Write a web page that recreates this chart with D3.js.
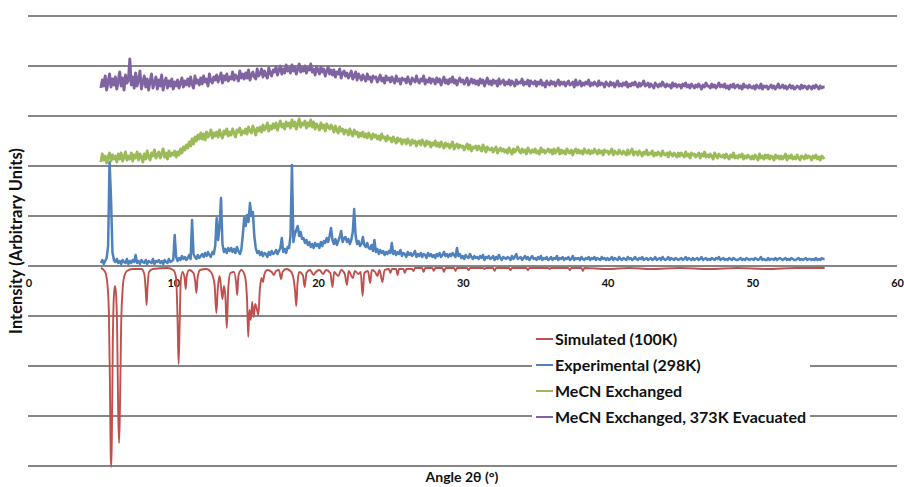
<!DOCTYPE html>
<html>
<head>
<meta charset="utf-8">
<script src="https://cdnjs.cloudflare.com/ajax/libs/d3/7.8.5/d3.min.js"></script>
<style>
  body { margin: 0; background: #fff; }
  text { font-family: Lato, "Open Sans", sans-serif; font-weight: bold; fill: #111; }
</style>
</head>
<body>
<script>
// PXRD patterns, stacked with offsets (arbitrary units)
// measured patterns are sampled every 0.1 deg from 5 to 55 deg 2theta

var seriesNames = ["Simulated (100K)", "Experimental (298K)", "MeCN Exchanged", "MeCN Exchanged, 373K Evacuated"];
var seriesColors = ["#c0504d", "#4f81bd", "#9bbb59", "#8064a2"];
var seriesWidths = [1.9, 2.5, 2.9, 2.9];
var xTicks = [0, 10, 20, 30, 40, 50, 60];

// simulated pattern, drawn inverted below zero
var simAngles = [5.0,5.2,5.35,5.45,5.55,5.62,5.68,5.72,5.76,5.82,5.9,5.97,6.05,6.13,6.2,6.26,6.32,6.4,6.5,6.62,6.8,7.2,7.8,8.0,8.1,8.16,8.22,8.32,8.6,9.6,
  10.0,10.2,10.3,10.37,10.44,10.52,10.65,10.8,10.86,10.93,11.1,11.4,11.52,11.6,11.68,11.85,12.3,12.6,12.85,12.98,13.08,13.2,13.32,13.4,13.5,13.6,13.7,13.8,13.95,
  14.2,14.35,14.42,14.5,14.7,14.95,15.1,15.18,15.26,15.36,15.45,15.56,15.66,15.76,15.88,15.98,16.1,16.2,16.3,16.5,16.8,16.95,17.1,17.3,17.45,17.55,17.8,
  18.1,18.3,18.42,18.5,18.58,18.7,18.95,19.08,19.2,19.45,19.7,19.85,20.1,20.35,20.55,20.85,21.0,21.12,21.4,21.6,21.85,22.0,22.12,22.4,22.55,22.8,22.95,
  23.08,23.2,23.45,23.6,23.72,23.95,24.1,24.25,24.45,24.6,
  24.9,25.0,25.1,25.4,25.5,25.6,25.9,26.0,26.1,26.5,26.6,26.7,27.2,27.3,27.4,27.9,28.0,28.1,28.6,28.7,28.8,29.4,29.5,29.6,30.3,30.4,30.5,
  31.4,31.5,31.6,32.1,32.2,32.3,33.2,33.3,33.4,34.4,34.5,34.6,35.9,36.0,36.1,37.3,37.4,37.5,38.2,38.3,38.4,
  40.0,41.5,43.0,45.0,47.0,49.0,51.0,53.0,55.0];
var simVals = [-2,-4,-8,-18,-45,-110,-190,-201,-170,-80,-30,-20,-28,-70,-150,-177,-140,-60,-24,-10,-5,-3,-3,-8,-25,-39,-22,-6,-3,-2,
  -4,-12,-55,-98,-60,-14,-6,-14,-23,-10,-4,-7,-16,-27,-12,-4,-3,-6,-18,-47,-22,-10,-24,-33,-20,-30,-62,-22,-7,
  -6,-18,-29,-10,-4,-10,-34,-71,-44,-54,-36,-51,-38,-42,-49,-24,-12,-16,-8,-4,-6,-9,-5,-4,-13,-6,-3,
  -5,-12,-26,-40,-18,-6,-9,-21,-7,-4,-9,-6,-4,-8,-4,-7,-21,-6,-10,-4,-8,-19,-5,-12,-5,-8,-6,
  -30,-7,-5,-17,-4,-6,-10,-4,-16,-4,
  -3,-7,-3,-3,-9,-3,-3,-7,-3,-3,-5,-2,-2,-6,-2,-2,-5,-2,-2,-6,-2,-2,-5,-2,-2,-4,-2,
  -2,-3,-2,-2,-5,-2,-2,-4,-2,-2,-4,-2,-2,-3,-2,-2,-4,-2,-2,-5,-2,
  -3,-2,-3,-2,-3,-2,-3,-2,-2];

var expVals = [
  3,6,2,5,8,20,104,68,14,6,
  4,7,3,5,2,6,4,3,7,2,
  5,3,6,4,11,3,5,2,6,4,
  3,6,2,5,4,3,7,2,5,4,
  6,3,5,2,6,4,3,7,4,5,
  6,31,9,5,8,6,10,7,9,6,
  8,11,7,46,12,9,7,11,8,10,
  12,9,13,10,14,11,9,14,12,20,
  48,26,40,68,22,14,17,13,18,15,
  18,14,17,13,19,15,12,16,30,48,
  40,51,44,63,50,54,30,18,13,15,
  11,14,10,13,12,9,14,11,15,12,
  13,16,12,15,18,28,14,17,13,19,
  18,30,101,24,32,36,40,30,34,27,
  28,23,26,21,24,19,22,18,23,20,
  22,18,24,20,25,23,28,24,30,38,
  26,22,27,21,25,29,35,24,28,29,
  24,27,22,26,34,57,30,22,25,20,
  22,29,21,19,23,18,17,21,15,26,
  14,17,12,16,13,15,11,14,12,15,
  13,23,12,15,11,14,12,16,10,13,
  12,9,14,11,13,10,12,15,9,12,
  10,13,9,12,11,8,13,10,12,9,
  11,8,12,10,13,9,11,14,10,12,
  9,12,10,13,11,9,18,10,12,8,
  10,7,11,9,8,12,9,7,10,8,
  9,7,10,8,11,6,9,8,10,7,
  8,10,6,9,7,11,8,6,9,8,
  7,9,8,6,10,7,9,12,7,8,
  9,6,8,10,7,9,6,8,10,7,
  8,6,9,7,10,6,8,7,9,6,
  7,9,6,8,7,10,6,8,7,9,
  6,8,7,9,6,7,10,6,8,7,
  8,6,9,7,6,8,7,9,6,8,
  7,9,6,8,7,6,9,7,8,6,
  8,6,7,9,6,8,7,6,9,7,
  6,8,7,6,9,7,8,6,7,9,
  7,6,8,7,9,6,7,8,6,7,
  8,6,7,9,6,7,8,6,9,7,
  6,7,9,6,8,7,6,8,7,6,
  7,8,6,7,9,6,8,7,6,8,
  6,7,8,6,7,9,6,7,8,6,
  7,6,8,7,6,8,7,9,6,7,
  8,6,7,6,8,7,6,8,7,6,
  6,7,8,6,7,6,8,7,6,7,
  7,6,8,7,6,7,9,6,7,6,
  6,8,6,7,7,6,8,6,7,8,
  7,6,7,8,6,7,6,8,7,6,
  6,7,8,6,7,6,7,8,6,7,
  7,6,7,6,8,6,7,6,8,7,
  7];

var mecnVals = [
  104,112,106,110,103,109,113,105,111,107,
  110,104,112,107,113,105,109,114,106,110,
  107,113,105,111,108,114,106,112,109,104,
  112,107,115,109,106,113,110,116,108,111,
  114,108,112,117,109,113,107,115,110,113,
  111,115,109,114,111,117,113,119,116,121,
  118,124,120,127,122,129,125,131,127,133,
  127,132,126,134,129,131,136,128,133,130,
  134,129,136,131,128,135,132,137,130,134,
  131,137,133,129,136,134,138,131,135,133,
  137,132,139,135,133,140,136,131,138,135,
  139,134,141,136,138,143,135,140,137,142,
  138,143,136,141,145,139,142,137,144,140,
  143,138,146,140,144,137,142,147,139,143,
  141,145,138,143,140,146,139,144,137,142,
  140,136,143,138,141,135,142,139,137,141,
  138,134,140,136,133,139,135,137,132,136,
  135,131,137,133,130,136,132,134,129,133,
  130,134,129,132,128,133,130,127,132,129,
  131,127,130,126,132,128,129,125,130,127,
  128,124,129,126,123,128,125,127,122,126,
  126,122,127,124,121,126,123,125,120,124,
  125,121,126,123,120,125,122,124,119,123,
  121,125,120,123,119,124,121,118,123,120,
  122,118,121,124,117,120,122,118,121,119,
  120,116,119,122,117,121,115,119,118,120,
  116,120,117,115,121,118,114,119,117,116,
  118,114,117,119,113,116,118,115,117,114,
  116,113,118,115,112,117,114,116,119,115,
  113,117,114,116,112,118,115,113,116,114,
  117,113,115,112,118,114,116,113,115,117,
  114,116,112,117,113,115,118,112,116,113,
  115,112,117,114,113,116,111,115,117,113,
  116,113,115,112,117,114,113,116,112,115,
  113,117,114,112,116,113,115,111,116,114,
  115,112,114,117,111,115,113,112,116,113,
  112,115,113,111,116,112,114,117,111,114,
  114,111,115,113,110,114,112,116,111,113,
  112,115,110,113,111,114,112,110,115,112,
  111,113,109,114,112,110,113,111,109,113,
  110,113,111,109,114,110,112,108,113,111,
  112,109,111,113,108,112,110,114,109,111,
  109,112,110,107,113,110,108,112,110,109,
  111,108,112,109,107,111,109,113,108,110,
  108,111,109,112,107,110,108,111,109,107,
  110,107,111,109,106,112,108,110,107,111,
  108,111,107,110,109,106,111,108,110,107,
  110,107,109,112,106,110,108,111,107,109,
  107,111,108,106,110,109,107,111,108,110,
  109,106,110,108,111,107,109,106,110,108,
  109];

var evacVals = [
  178,186,180,190,176,184,192,179,187,181,
  189,177,185,194,180,188,176,191,183,186,
  207,181,189,178,193,180,186,195,177,184,
  190,179,187,176,185,192,178,183,189,177,
  186,180,191,176,184,188,178,185,180,187,
  177,184,180,186,178,183,188,179,185,181,
  187,180,189,182,178,190,183,186,181,188,
  182,190,184,187,180,192,185,183,189,186,
  191,184,188,193,183,190,186,192,185,189,
  187,194,186,191,189,185,195,188,192,187,
  193,188,196,186,191,194,189,187,197,190,
  192,197,189,195,191,188,198,193,190,196,
  194,199,191,196,200,192,197,193,201,195,
  198,193,201,195,199,192,197,202,194,198,
  195,200,193,198,196,202,194,197,191,199,
  196,192,199,194,197,190,195,199,192,196,
  191,196,189,194,192,197,188,193,195,190,
  193,188,191,195,187,190,194,186,192,189,
  186,191,188,185,192,187,189,184,190,188,
  189,184,187,191,185,188,183,190,186,188,
  184,189,186,183,190,185,187,182,188,186,
  187,183,189,185,182,188,186,184,190,185,
  183,187,185,190,182,186,184,188,183,187,
  186,182,188,184,187,181,185,189,183,186,
  182,187,184,189,183,186,181,185,188,184,
  186,182,185,188,181,184,187,183,186,182,
  185,181,187,183,186,180,184,188,182,185,
  181,186,183,185,180,187,182,184,186,181,
  184,182,186,181,185,183,180,186,182,184,
  183,187,181,184,182,186,180,185,183,182,
  185,180,184,182,186,181,183,179,185,182,
  181,185,182,184,180,183,186,181,184,182,
  184,180,183,185,181,182,184,179,186,181,
  182,185,180,183,181,184,182,186,180,183,
  181,184,182,180,185,181,183,182,179,184,
  182,180,184,181,183,179,182,185,180,182,
  180,183,181,184,179,182,180,183,181,184,
  181,179,183,180,182,185,180,181,183,179,
  182,180,178,183,181,179,182,180,184,181,
  179,182,180,181,178,183,180,182,179,181,
  181,178,182,180,183,179,181,178,182,180,
  178,181,179,182,180,177,181,179,183,180,
  180,178,182,179,181,178,180,183,179,181,
  179,182,178,180,177,181,179,182,178,180,
  181,178,180,177,182,179,180,178,181,179,
  178,180,177,181,179,178,182,177,180,179,
  180,177,179,181,178,180,177,179,182,178,
  179,181,178,180,177,179,181,178,180,177,
  178,180,179,177,181,178,180,179,177,180,
  179,177,180,178,181,179,177,180,178,179,
  179];

// sampling grid of the measured patterns
var angles = expVals.map(function(d, i) { return Math.round((5 + i * 0.1) * 10) / 10; });

var width = 904, height = 487;

var svg = d3.select("body").append("svg")
    .attr("width", width)
    .attr("height", height);

var x = d3.scaleLinear().domain([0, 60]).range([28.5, 897]);
var y = d3.scaleLinear().domain([-200, 250]).range([466, 16]);

// horizontal gridlines
svg.append("g")
    .selectAll("line")
    .data(y.ticks(10))
    .enter().append("line")
    .attr("x1", x(0) - 1)
    .attr("x2", x(60))
    .attr("y1", function(d) { return y(d); })
    .attr("y2", function(d) { return y(d); })
    .attr("stroke", "#868686")
    .attr("stroke-width", 1.2)
    .attr("shape-rendering", "crispEdges");

// x axis labels on the zero line
var xAxis = svg.append("g")
    .attr("transform", "translate(0," + y(0) + ")")
    .call(d3.axisBottom(x).tickValues(xTicks).tickSize(0).tickFormat(d3.format("d")));
xAxis.select(".domain").remove();
xAxis.selectAll("text")
    .attr("y", 17)
    .attr("dy", "0.35em")
    .style("font-size", "11px")
    .style("font-family", "Lato, sans-serif")
    .style("font-weight", "bold")
    .attr("fill", "#111");

var line = d3.line()
    .x(function(d) { return x(d[0]); })
    .y(function(d) { return y(d[1]); });

var simLine = d3.line()
    .curve(d3.curveMonotoneX)
    .x(function(d) { return x(d[0]); })
    .y(function(d) { return y(d[1]); });

svg.append("path")
    .datum(d3.zip(simAngles, simVals))
    .attr("d", simLine)
    .attr("fill", "none")
    .attr("stroke", seriesColors[0])
    .attr("stroke-width", seriesWidths[0]);

[expVals, mecnVals, evacVals].forEach(function(vals, i) {
  svg.append("path")
      .datum(d3.zip(angles, vals))
      .attr("d", line)
      .attr("fill", "none")
      .attr("stroke", seriesColors[i + 1])
      .attr("stroke-width", seriesWidths[i + 1])
      .attr("stroke-linejoin", "round");
});

// legend
var legend = svg.append("g");
legend.append("rect")
    .attr("x", 532)
    .attr("y", 324)
    .attr("width", 278)
    .attr("height", 106)
    .attr("fill", "#fff");

seriesNames.forEach(function(name, i) {
  var ly = 339 + i * 26;
  legend.append("line")
      .attr("x1", 536).attr("x2", 553)
      .attr("y1", ly).attr("y2", ly)
      .attr("stroke", seriesColors[i])
      .attr("stroke-width", 2);
  legend.append("text")
      .attr("x", 555)
      .attr("y", ly)
      .attr("dy", "0.35em")
      .style("font-size", "16px")
      .text(name);
});

// axis titles
svg.append("text")
    .attr("transform", "translate(16,241) rotate(-90)")
    .attr("text-anchor", "middle")
    .attr("dy", "0.35em")
    .style("font-size", "16.5px")
    .text("Intensity (Arbitrary Units)");

svg.append("text")
    .attr("x", 462)
    .attr("y", 477)
    .attr("text-anchor", "middle")
    .attr("dy", "0.35em")
    .style("font-size", "14px")
    .text("Angle 2θ (°)");
</script>
</body>
</html>
